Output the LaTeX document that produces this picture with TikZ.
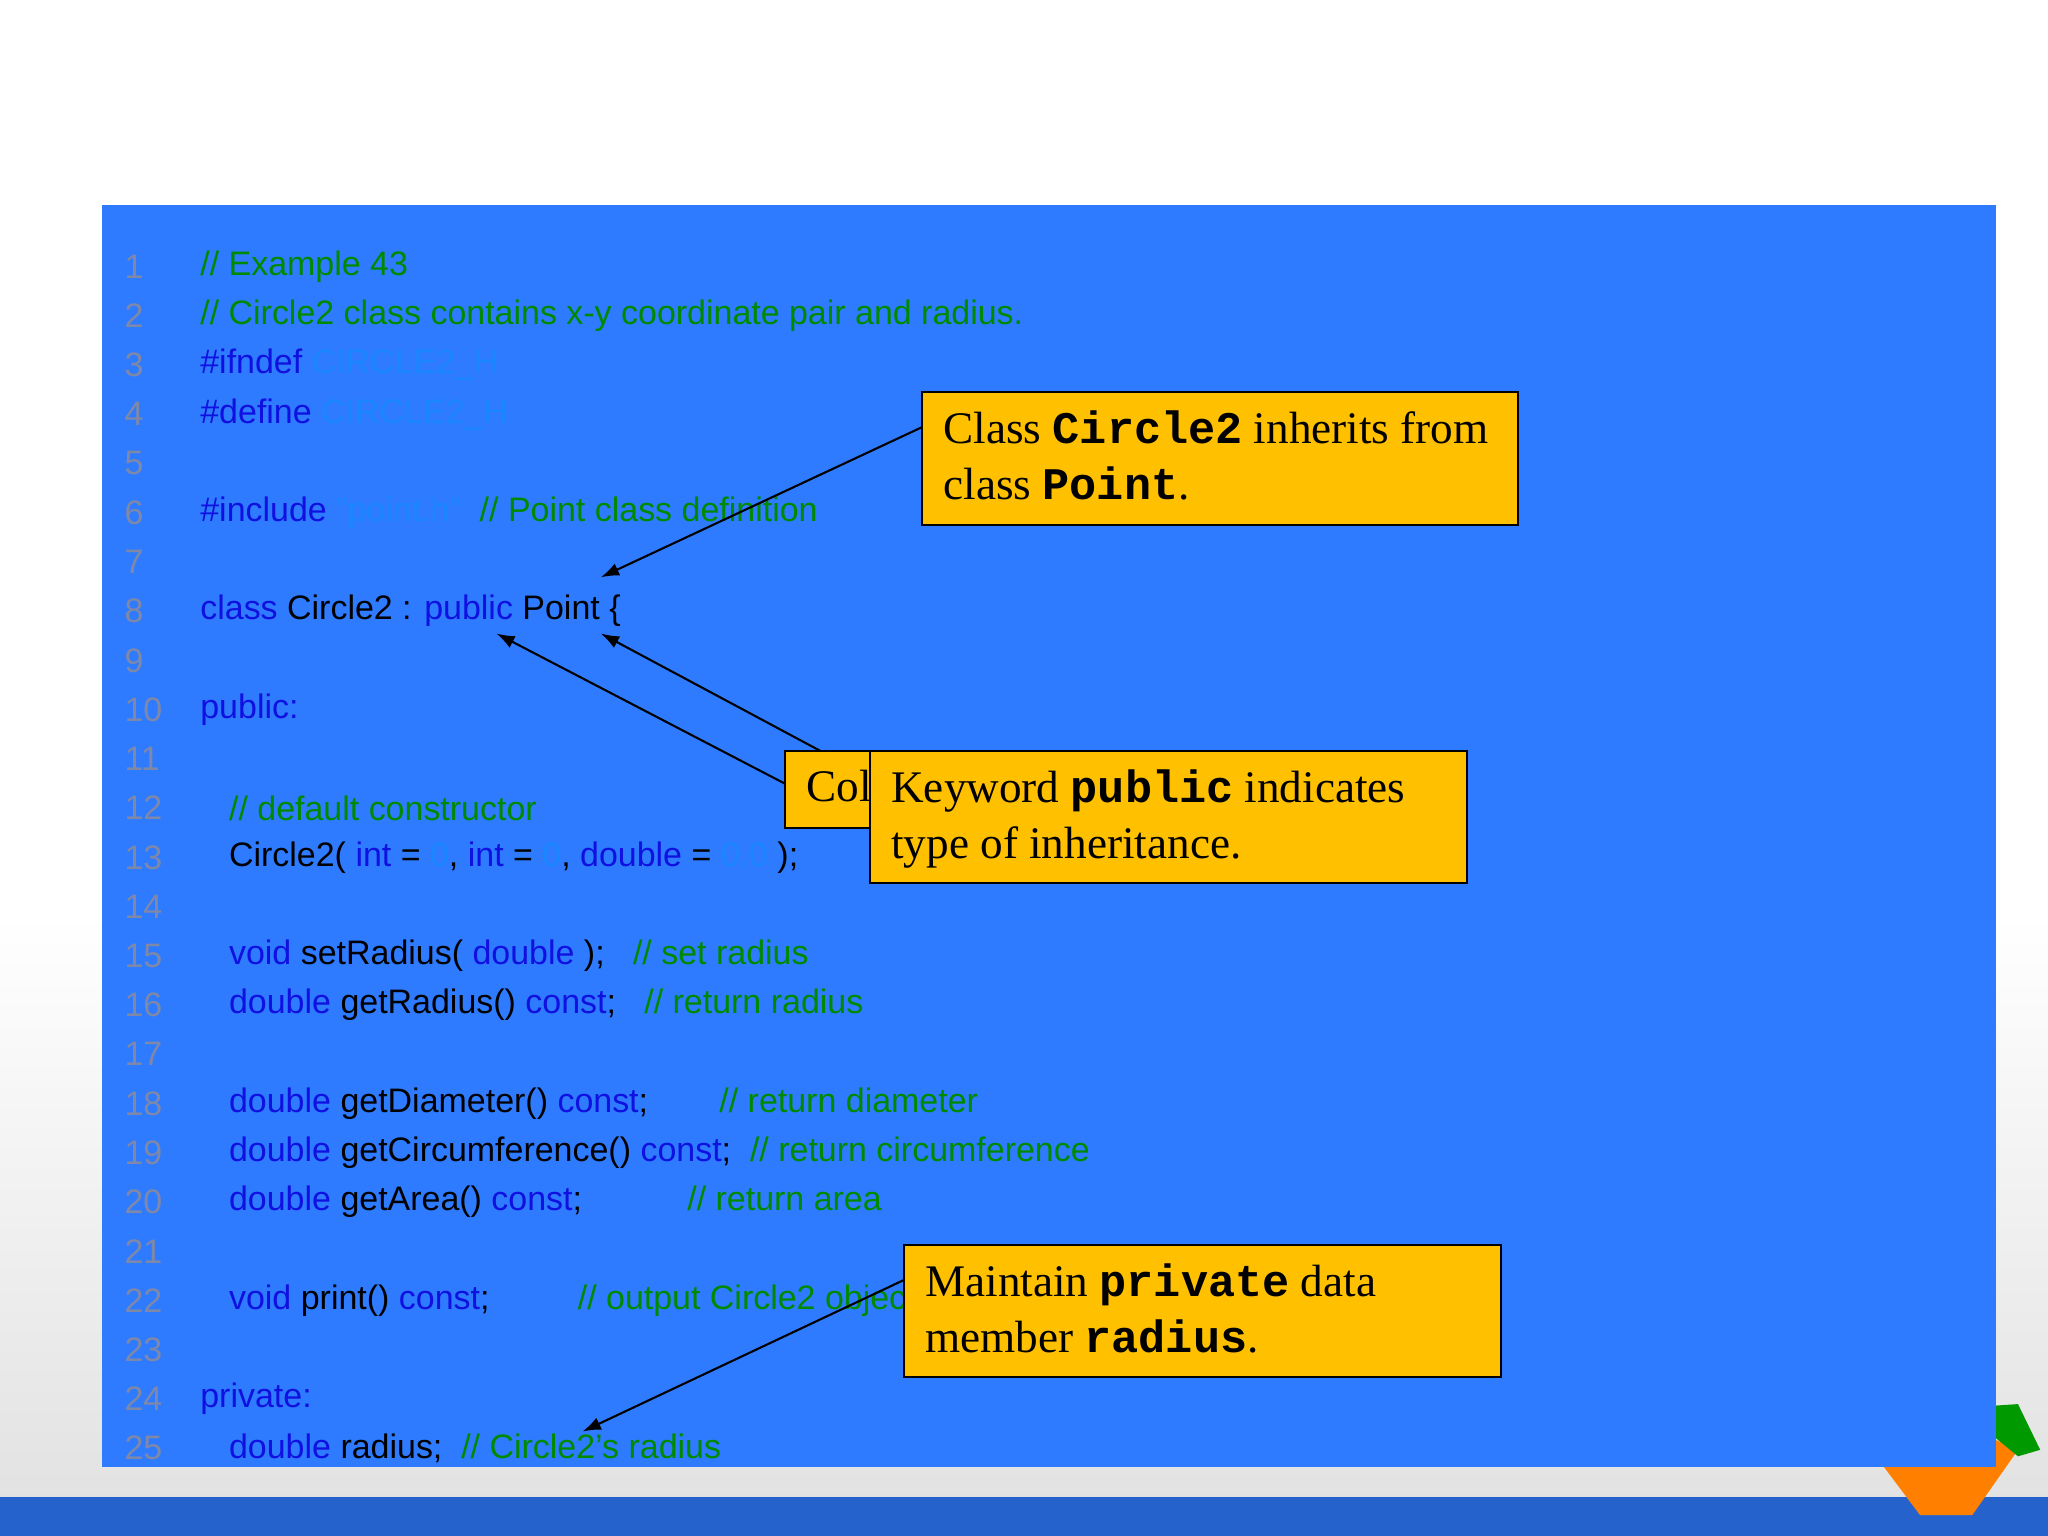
\documentclass[tikz,border=0pt]{standalone}
\usepackage{fontspec}
\usetikzlibrary{arrows.meta}
\setmainfont{Liberation Serif}
\setsansfont{Liberation Sans}
\setmonofont{Liberation Mono}
\definecolor{bgblue}{HTML}{2E7BFF}
\definecolor{cgreen}{HTML}{008A00}
\definecolor{ckw}{HTML}{1010E0}
\definecolor{clit}{HTML}{1A86FF}
\definecolor{cnum}{HTML}{8088A8}
\definecolor{gold}{HTML}{FFC000}
\newcommand\cmt[1]{\textcolor{cgreen}{#1}}
\newcommand\kw[1]{\textcolor{ckw}{#1}}
\newcommand\lit[1]{\textcolor{clit}{#1}}
\newcommand\mb[1]{\texttt{\bfseries #1}}
\tikzset{
 code/.style={anchor=west,inner sep=0pt,font=\sffamily\fontsize{13}{15}\selectfont,text=black},
 lnum/.style={anchor=west,inner sep=0pt,font=\sffamily\fontsize{13}{15}\selectfont,text=cnum},
 callout/.style={draw=black,fill=gold,line width=0.8pt,anchor=north west,inner sep=0pt},
 ctext/.style={anchor=north west,align=left,font=\fontsize{17.3}{21.5}\selectfont,inner sep=0pt},
 arr/.style={-{Latex[length=7pt,width=5pt]},line width=0.8pt}
}
\begin{document}
\begin{tikzpicture}[x=0.5pt,y=-0.5pt]
\useasboundingbox (0,0) rectangle (1568,1176);
\shade[top color=white,bottom color=white] (0,0) rectangle (1568,700);
\shade[top color=white,bottom color=black!12] (0,700) rectangle (1568,1176);
\fill[bgblue!80!black] (0,1146) rectangle (1568,1176);
\fill[orange] (1440,1120) -- (1500,1090) -- (1545,1110) -- (1510,1160) -- (1470,1160) -- cycle;
\fill[green!60!black] (1500,1078) -- (1545,1075) -- (1562,1110) -- (1545,1115) -- cycle;
\fill[bgblue] (78,157) rectangle (1528,1123);
\foreach \n in {1,...,25}{\node[lnum] (n\n) at (95,{204+(\n-1)*37.7}) {\n};}
\node[code] (c1) at (153,204) {\cmt{// Example 43}};
\node[code] (c2) at (153,241.7) {\cmt{// Circle2 class contains x-y coordinate pair and radius.}};
\node[code] (c3) at (153,279.4) {\kw{\#ifndef} \lit{CIRCLE2\_H}};
\node[code] (c4) at (153,317.1) {\kw{\#define} \lit{CIRCLE2\_H}};
\node[code] (c6) at (153,392.5) {\kw{\#include} \lit{"point.h"}\ \ \cmt{// Point class definition}};
\node[code] (c8) at (153,467.9) {\kw{class} Circle2 : \kw{public} Point \{};
\node[code] (c10) at (153,543.3) {\kw{public:}};
\node[code] (c12) at (175,618.7) {\cmt{// default constructor}};
\node[code] (c13) at (175,656.4) {Circle2( \kw{int} = \lit{0}, \kw{int} = \lit{0}, \kw{double} = \lit{0.0} );};
\node[code] (c15) at (175,731.8) {\kw{void} setRadius( \kw{double} );\ \ \ \cmt{// set radius}};
\node[code] (c16) at (175,769.5) {\kw{double} getRadius() \kw{const};\ \ \ \cmt{// return radius}};
\node[code] (c18) at (175,844.9) {\kw{double} getDiameter() \kw{const};\hspace{2.1em}\cmt{// return diameter}};
\node[code] (c19) at (175,882.6) {\kw{double} getCircumference() \kw{const};\ \ \cmt{// return circumference}};
\node[code] (c20) at (175,920.3) {\kw{double} getArea() \kw{const};\hspace{3.1em}\cmt{// return area}};
\node[code] (c22) at (175,995.7) {\kw{void} print() \kw{const};\hspace{2.6em}\cmt{// output Circle2 object}};
\node[code] (c24) at (153,1071.1) {\kw{private:}};
\node[code] (c25) at (175,1108.8) {\kw{double} radius;\ \ \cmt{// Circle2's radius}};
\coordinate (tA) at (460,442);
\coordinate (tB) at (380,485);
\coordinate (tC) at (460,485);
\coordinate (tD) at (446,1096);
\coordinate (sA) at (706,327);
\coordinate (sB) at (601,600);
\coordinate (sC) at (660,592);
\coordinate (sD) at (692,980);
\draw[arr] (sA) -- (tA);
\draw[arr] (sB) -- (tB);
\draw[arr] (sC) -- (tC);
\draw[arr] (sD) -- (tD);
\draw[callout] (706,300) rectangle (1162,402);
\node[ctext] (b1) at (722,314) {Class \mb{Circle2} inherits from\\class \mb{Point}.};
\draw[callout] (601,575) rectangle (680,634);
\node[ctext] (b2) at (617,589) {Col};
\draw[callout] (666,575) rectangle (1123,676);
\node[ctext] (b3) at (682,589) {Keyword \mb{public} indicates\\type of inheritance.};
\draw[callout] (692,953) rectangle (1149,1054);
\node[ctext] (b4) at (708,967) {Maintain \mb{private} data\\member \mb{radius}.};
\end{tikzpicture}
\end{document}
